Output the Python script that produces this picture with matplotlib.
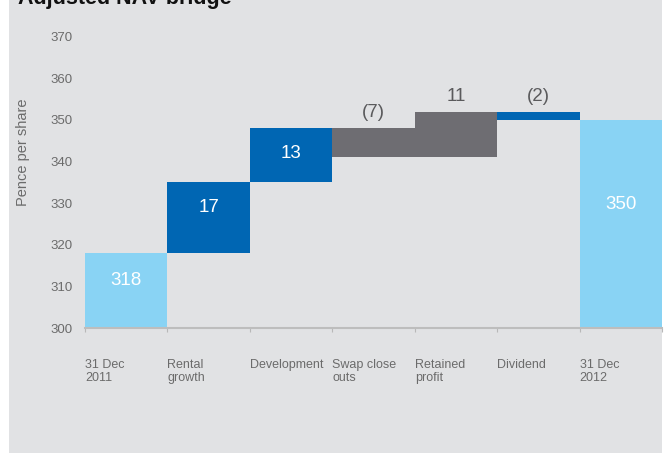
import matplotlib.pyplot as plt
from matplotlib.patches import Rectangle

plt.rcParams['font.family'] = ['Liberation Sans', 'DejaVu Sans']

# NAV bridge, pence per share
categories = ['31 Dec\n2011', 'Rental\ngrowth', 'Development', 'Swap close\nouts',
              'Retained\nprofit', 'Dividend', '31 Dec\n2012']
start_nav = 318
movements = [17, 13, -7, 11, -2]
end_nav = 350
value_labels = ['318', '17', '13', '(7)', '11', '(2)', '350']

light_blue = '#89d3f4'
dark_blue = '#0066b3'
grey_bar = '#6e6d72'
panel = '#e1e2e4'
text_grey = '#6b6b6b'

# bar colours for the movement steps
step_colors = [dark_blue, dark_blue, grey_bar, grey_bar, dark_blue]
# movement labels drawn inside the bar (True) or above it (False)
step_inside = [True, True, False, False, False]

fig = plt.figure(figsize=(6.65, 4.53), dpi=100)
fig.add_artist(Rectangle((9 / 665, 0), 653 / 665, 1, transform=fig.transFigure,
                         facecolor=panel, edgecolor='none', zorder=-10))

ax = fig.add_axes([85 / 665, (453 - 328.3) / 453, 577 / 665, (328.3 - 36.5) / 453])
ax.set_facecolor('none')
ax.set_zorder(1)

base_y = 300
# opening bar
ax.bar(0, start_nav - base_y, bottom=base_y, width=1.0, color=light_blue)
ax.text(0, start_nav - 6.5, value_labels[0], ha='center', va='center',
        color='white', fontsize=13.5)

level = start_nav
for i, step in enumerate(movements):
    x = i + 1
    lo = min(level, level + step)
    ax.bar(x, abs(step), bottom=lo, width=1.0, color=step_colors[i])
    top = lo + abs(step)
    if step_inside[i]:
        ax.text(x, top - 6, value_labels[x], ha='center', va='center',
                color='white', fontsize=13.5)
    else:
        ax.annotate(value_labels[x], (x, top), xytext=(0, 5), textcoords='offset points',
                    ha='center', va='bottom', color='#5a5a5c', fontsize=13.5)
    level += step

# closing bar
ax.bar(6, end_nav - base_y, bottom=base_y, width=1.0, color=light_blue)
ax.text(6, 329.6, value_labels[6], ha='center', va='center',
        color='white', fontsize=13.5)

ax.set_xlim(-0.5, 6.5)
ax.set_ylim(300, 370)
ax.set_yticks(range(300, 371, 10))
ax.tick_params(axis='y', length=0, pad=9, labelsize=9.5, labelcolor=text_grey)

ax.set_xticks([k - 0.5 for k in range(8)])
ax.set_xticklabels(categories + [''], ha='left', va='top')
ax.tick_params(axis='x', length=3, width=0.8, color='#b8b8b8', pad=19,
               labelsize=9, labelcolor=text_grey)
for lbl in ax.get_xticklabels():
    lbl.set_linespacing(1.1)
    lbl.set_multialignment('left')

for side in ['top', 'right', 'left']:
    ax.spines[side].set_visible(False)
ax.spines['bottom'].set_color('#bdbdbd')
ax.spines['bottom'].set_linewidth(1.5)

fig.text(23 / 665, (453 - 152) / 453, 'Pence per share', rotation=90,
         ha='center', va='center', color=text_grey, fontsize=10.5)
fig.text(18 / 665, 1 - 4 / 453, 'Adjusted NAV bridge', ha='left', va='baseline',
         fontsize=15.5, fontweight='bold', color='#111111')

fig.savefig('out.png', dpi=100)
